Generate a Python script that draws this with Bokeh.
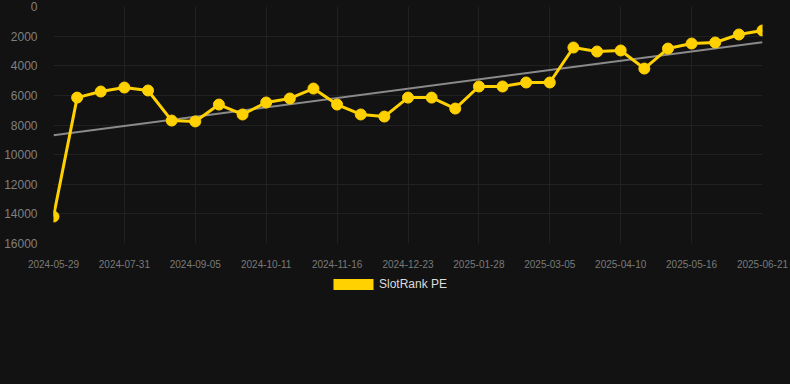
from bokeh.plotting import figure
from bokeh.layouts import column
from bokeh.models import Range1d, FixedTicker, Legend, LegendItem, ColumnDataSource
from bokeh.embed import file_html
from bokeh.resources import INLINE

# ---- data ----
dates = [
    "2024-05-29", "2024-07-07", "2024-07-19", "2024-07-31", "2024-08-12", "2024-08-24",
    "2024-09-05", "2024-09-17", "2024-09-29", "2024-10-11", "2024-10-23", "2024-11-04",
    "2024-11-16", "2024-11-28", "2024-12-11", "2024-12-23", "2025-01-04", "2025-01-16",
    "2025-01-28", "2025-02-09", "2025-02-21", "2025-03-05", "2025-03-17", "2025-03-29",
    "2025-04-10", "2025-04-22", "2025-05-04", "2025-05-16", "2025-05-28", "2025-06-09",
    "2025-06-21",
]
slotrank_pe = [
    14180, 6150, 5740, 5470, 5670, 7700, 7760, 6620, 7290, 6480, 6210, 5540,
    6620, 7290, 7430, 6150, 6150, 6890, 5400, 5400, 5130, 5130, 2770, 3040,
    2970, 4190, 2840, 2500, 2430, 1890, 1620,
]
trend_ends = [8690, 2410]
y_ticks = [0, 2000, 4000, 6000, 8000, 10000, 12000, 14000, 16000]
label_every = 3
series_name = "SlotRank PE"

BG = "#121212"
GRID = "#212121"
YELLOW = "#FFD100"

idx = list(range(len(dates)))
src = ColumnDataSource(dict(x=idx, y=slotrank_pe, d=dates))

p = figure(
    width=790, height=270,
    output_backend="svg", toolbar_location=None,
    x_range=Range1d(0, len(dates) - 1),
    y_range=Range1d(y_ticks[-1], y_ticks[0]),
    min_border_left=53, min_border_right=28, min_border_top=6, min_border_bottom=27,
    background_fill_color=BG, border_fill_color=None,
    outline_line_color=None,
    styles={"background-color": BG},
)

x_tick_pos = idx[::label_every]
p.xaxis.ticker = FixedTicker(ticks=x_tick_pos)
p.xaxis.major_label_overrides = {i: dates[i] for i in x_tick_pos}
p.yaxis.ticker = FixedTicker(ticks=y_ticks)
p.yaxis.major_label_overrides = {t: str(t) for t in y_ticks}

for ax in (p.xaxis, p.yaxis):
    ax.axis_line_color = None
    ax.major_tick_line_color = None
    ax.minor_tick_line_color = None
    ax.major_label_text_font = "Liberation Sans"
    ax.major_label_standoff = 10
p.xaxis.major_label_text_font_size = "10px"
p.xaxis.major_label_text_color = "#7a7a7a"
p.yaxis.major_label_text_font_size = "12px"
p.yaxis.major_label_text_color = "#808080"

p.xgrid.ticker = FixedTicker(ticks=x_tick_pos)
p.ygrid.ticker = FixedTicker(ticks=y_ticks)
p.xgrid.grid_line_color = GRID
p.ygrid.grid_line_color = GRID

# trend line
p.line([idx[0], idx[-1]], trend_ends, line_color="#8a8a8a", line_width=2)

# series
p.line("x", "y", source=src, line_color=YELLOW, line_width=3, line_join="round")
p.scatter("x", "y", source=src, size=11, fill_color=YELLOW, line_color=YELLOW)

# ---- legend strip below the chart ----
p2 = figure(
    width=790, height=114,
    output_backend="svg", toolbar_location=None,
    x_axis_type=None, y_axis_type=None,
    x_range=Range1d(0, 1), y_range=Range1d(0, 1),
    min_border_left=53, min_border_right=28, min_border_top=0, min_border_bottom=0,
    background_fill_color=BG, border_fill_color=None,
    outline_line_color=None,
    styles={"background-color": BG},
)
# zero-area proxy glyph so the legend draws a filled swatch
sw = p2.quad(left=[0], right=[0], top=[0], bottom=[0], fill_color=YELLOW, line_color=None)

legend = Legend(
    items=[LegendItem(label=series_name, renderers=[sw])],
    location=(275, 93),
    orientation="horizontal",
    glyph_width=50, glyph_height=14, label_standoff=1,
    padding=0, margin=0,
    background_fill_alpha=0, border_line_alpha=0,
    label_text_color="#dddddd", label_text_font_size="12px",
    label_text_font="Liberation Sans",
)
p2.add_layout(legend, "center")

layout = column(p, p2, spacing=0, styles={"background-color": BG})
open("out.html", "w").write(file_html(layout, INLINE))
